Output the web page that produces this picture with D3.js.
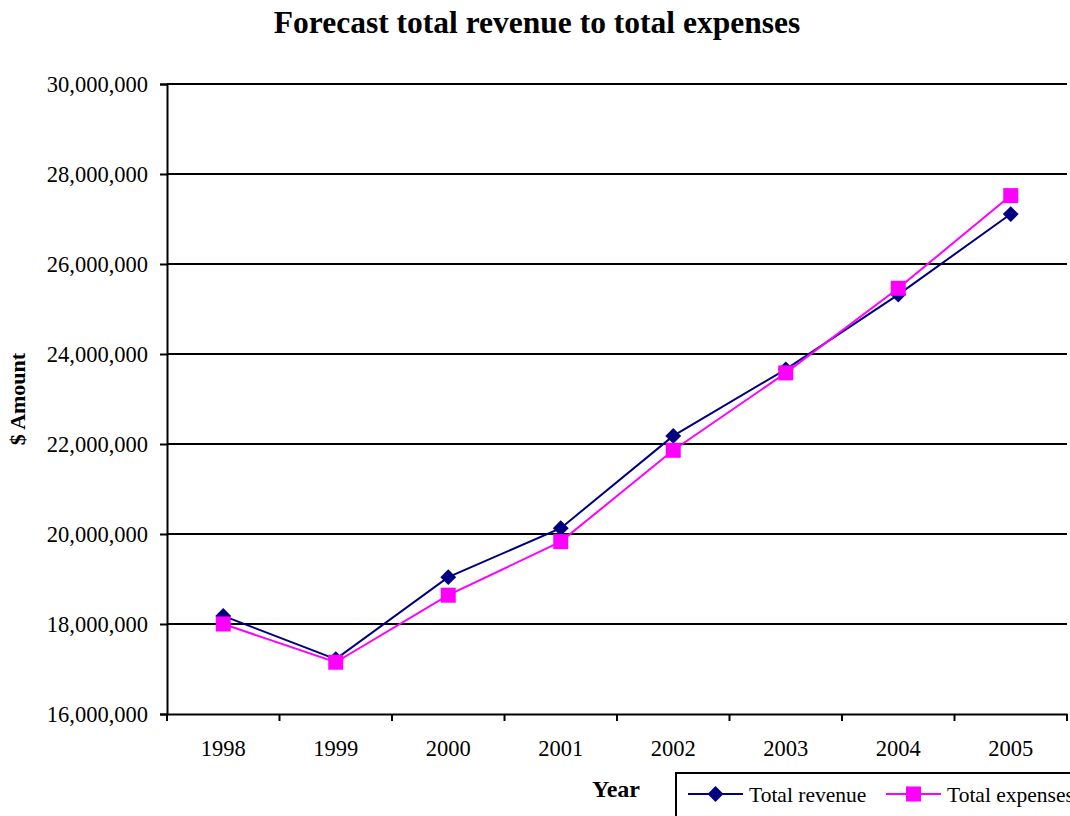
<!DOCTYPE html>
<html>
<head>
<meta charset="utf-8">
<script src="https://cdn.jsdelivr.net/npm/d3@7"></script>
<style>
  html, body { margin: 0; padding: 0; background: #fff; }
  svg { display: block; font-family: "Liberation Serif", "Times New Roman", serif; }
</style>
</head>
<body>
<svg id="chart" width="1070" height="816"></svg>
<script>
// Forecast figures, in dollars
const years = ["1998", "1999", "2000", "2001", "2002", "2003", "2004", "2005"];
const totalRevenue  = [18180000, 17220000, 19040000, 20130000, 22180000, 23660000, 25320000, 27110000];
const totalExpenses = [18000000, 17150000, 18640000, 19830000, 21860000, 23580000, 25460000, 27520000];
const yTicks = [16000000, 18000000, 20000000, 22000000, 24000000, 26000000, 28000000, 30000000];

const svg = d3.select("#chart");
const plot = { left: 167, right: 1067, top: 84, bottom: 714 };
const serif = "Liberation Serif, Times New Roman, serif";

const x = d3.scaleBand().domain(years).range([plot.left, plot.right]).padding(0);
const y = d3.scaleLinear().domain([16000000, 30000000]).range([plot.bottom, plot.top]);
const fmt = d3.format(",");

// Title
svg.append("text")
  .attr("x", 537).attr("y", 33)
  .attr("text-anchor", "middle")
  .attr("font-weight", "bold")
  .attr("font-size", 31.5)
  .text("Forecast total revenue to total expenses");

// Horizontal gridlines
svg.append("g")
  .selectAll("line")
  .data(yTicks.slice(1))
  .join("line")
  .attr("x1", plot.left).attr("x2", plot.right)
  .attr("y1", d => y(d)).attr("y2", d => y(d))
  .attr("stroke", "#000").attr("stroke-width", 2);

// Y axis
const yAxis = svg.append("g")
  .attr("transform", `translate(${plot.left},0)`)
  .call(d3.axisLeft(y).tickValues(yTicks).tickFormat(fmt).tickSize(7).tickPadding(12));
yAxis.select(".domain").attr("stroke", "#000").attr("stroke-width", 2);
yAxis.selectAll(".tick line").attr("stroke", "#000").attr("stroke-width", 2);
yAxis.selectAll(".tick text")
  .attr("font-family", serif)
  .attr("font-size", 22.5).attr("fill", "#000");

// X axis with ticks on category boundaries
const xAxis = svg.append("g")
  .attr("transform", `translate(0,${plot.bottom})`)
  .call(d3.axisBottom(x).tickSize(0).tickPadding(26));
xAxis.select(".domain").attr("stroke", "#000").attr("stroke-width", 2);
xAxis.selectAll(".tick text")
  .attr("font-family", serif)
  .attr("font-size", 22.5).attr("fill", "#000");
const boundaries = years.map(d => x(d)).concat([x(years[years.length - 1]) + x.bandwidth()]);
svg.append("g")
  .selectAll("line")
  .data(boundaries)
  .join("line")
  .attr("x1", d => d).attr("x2", d => d)
  .attr("y1", plot.bottom).attr("y2", plot.bottom + 7)
  .attr("stroke", "#000").attr("stroke-width", 2);

// Axis titles
svg.append("text")
  .attr("transform", `translate(25,${(plot.top + plot.bottom) / 2}) rotate(-90)`)
  .attr("text-anchor", "middle")
  .attr("font-weight", "bold")
  .attr("font-size", 22)
  .text("$ Amount");

svg.append("text")
  .attr("x", 616).attr("y", 797)
  .attr("text-anchor", "middle")
  .attr("font-weight", "bold")
  .attr("font-size", 24)
  .text("Year");

// Series
const cx = d => x(d) + x.bandwidth() / 2;
const line = d3.line().x((d, i) => cx(years[i])).y(d => y(d));

const navy = "#000080", magenta = "#FF00FF";

svg.append("path")
  .datum(totalRevenue)
  .attr("d", line)
  .attr("fill", "none").attr("stroke", navy).attr("stroke-width", 2);

svg.append("g")
  .selectAll("path")
  .data(totalRevenue)
  .join("path")
  .attr("d", d3.symbol(d3.symbolDiamond2, 160)())
  .attr("transform", (d, i) => `translate(${cx(years[i])},${y(d)})`)
  .attr("fill", navy);

svg.append("path")
  .datum(totalExpenses)
  .attr("d", line)
  .attr("fill", "none").attr("stroke", magenta).attr("stroke-width", 2);

svg.append("g")
  .selectAll("rect")
  .data(totalExpenses)
  .join("rect")
  .attr("x", (d, i) => cx(years[i]) - 7.5)
  .attr("y", d => y(d) - 7.5)
  .attr("width", 15).attr("height", 15)
  .attr("fill", magenta);

// Legend
const legend = svg.append("g");
legend.append("rect")
  .attr("x", 676).attr("y", 773)
  .attr("width", 420).attr("height", 80)
  .attr("fill", "#fff").attr("stroke", "#000").attr("stroke-width", 2);

const entries = [
  { name: "Total revenue", color: navy, mark: "diamond", x0: 688 },
  { name: "Total expenses", color: magenta, mark: "square", x0: 886 }
];
const ly = 794;
entries.forEach(e => {
  legend.append("line")
    .attr("x1", e.x0).attr("x2", e.x0 + 55)
    .attr("y1", ly).attr("y2", ly)
    .attr("stroke", e.color).attr("stroke-width", 2);
  if (e.mark === "diamond") {
    legend.append("path")
      .attr("d", d3.symbol(d3.symbolDiamond2, 160)())
      .attr("transform", `translate(${e.x0 + 27.5},${ly})`)
      .attr("fill", e.color);
  } else {
    legend.append("rect")
      .attr("x", e.x0 + 27.5 - 7.5).attr("y", ly - 7.5)
      .attr("width", 15).attr("height", 15)
      .attr("fill", e.color);
  }
  legend.append("text")
    .attr("x", e.x0 + 61).attr("y", ly + 8)
    .attr("font-size", 21.5)
    .text(e.name);
});
</script>
</body>
</html>
